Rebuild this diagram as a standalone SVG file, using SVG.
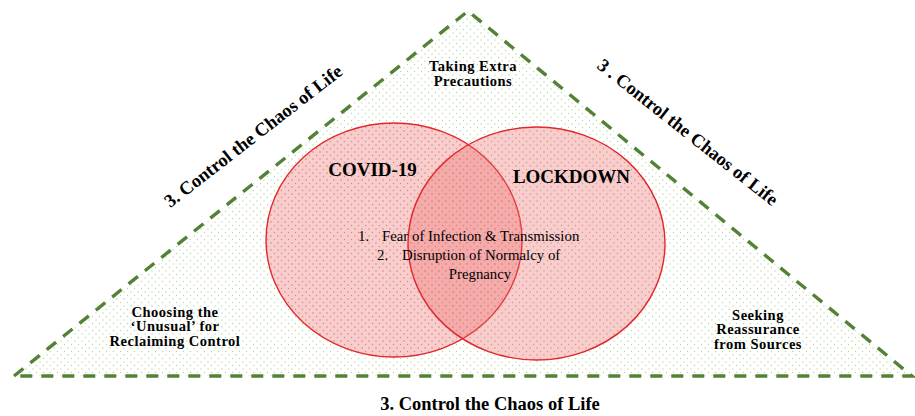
<svg xmlns="http://www.w3.org/2000/svg" width="915" height="416" viewBox="0 0 915 416">
<defs>
<pattern id="dots" width="7" height="7" patternUnits="userSpaceOnUse">
<circle cx="1.5" cy="1.5" r="0.7" fill="#b5d99c"/>
<circle cx="5" cy="5" r="0.7" fill="#b5d99c"/>
</pattern>
<pattern id="pdots" width="7" height="7" patternUnits="userSpaceOnUse">
<circle cx="1.5" cy="1.5" r="0.7" fill="#d9a08a"/>
<circle cx="5" cy="5" r="0.7" fill="#d9a08a"/>
</pattern>
</defs>
<style>
.t{font-family:"Liberation Serif","Times New Roman",serif;fill:#000}
.b{font-weight:bold}
.lab{font-size:14.5px;font-weight:bold;text-anchor:middle;letter-spacing:0.5px}
.side{font-size:18.5px;font-weight:bold;text-anchor:middle}
.body{font-size:14.8px}
.circ{fill:#eb6464;fill-opacity:0.32;stroke:#e0282f;stroke-width:1.4}
.tri{fill:url(#dots);stroke:#538135;stroke-width:3.4;stroke-dasharray:12 9}
</style>
<rect width="915" height="416" fill="#fff"/>
<g id="triangle">
<polygon class="tri" points="14,376 468,11 912,376"/>
</g>
<g id="covid">
<ellipse cx="394" cy="240" rx="128" ry="117" fill="url(#pdots)"/>
<ellipse class="circ" cx="394" cy="240" rx="128" ry="117"/>
<text class="t b" x="372.5" y="176" font-size="19" text-anchor="middle">COVID-19</text>
</g>
<g id="lockdown">
<ellipse cx="536.5" cy="243.5" rx="128.5" ry="116.5" fill="url(#pdots)" fill-opacity="0.6"/>
<ellipse class="circ" cx="536.5" cy="243.5" rx="128.5" ry="116.5"/>
<text class="t b" x="571.5" y="183" font-size="19" text-anchor="middle">LOCKDOWN</text>
</g>
<g id="shared">
<text class="t body" x="358" y="241">1.</text>
<text class="t body" x="382" y="241">Fear of Infection &amp; Transmission</text>
<text class="t body" x="377" y="260">2.</text>
<text class="t body" x="402" y="260">Disruption of Normalcy of</text>
<text class="t body" x="480" y="279" text-anchor="middle">Pregnancy</text>
</g>
<g id="precautions">
<text class="t lab" x="473" y="71">Taking Extra</text>
<text class="t lab" x="473" y="85.5">Precautions</text>
</g>
<g id="unusual">
<text class="t lab" x="175" y="316.5">Choosing the</text>
<text class="t lab" x="175" y="331">‘Unusual’ for</text>
<text class="t lab" x="175" y="345.5">Reclaiming Control</text>
</g>
<g id="reassurance">
<text class="t lab" x="758" y="319.5">Seeking</text>
<text class="t lab" x="758" y="334">Reassurance</text>
<text class="t lab" x="758" y="348.5">from Sources</text>
</g>
<g id="chaos-left">
<text class="t side" transform="translate(257,141) rotate(-37.8)">3. Control the Chaos of Life</text>
</g>
<g id="chaos-right">
<text class="t side" transform="translate(684,137) rotate(38.3)">3 . Control the Chaos of Life</text>
</g>
<g id="chaos-bottom">
<text class="t side" x="490" y="410">3. Control the Chaos of Life</text>
</g>
</svg>
